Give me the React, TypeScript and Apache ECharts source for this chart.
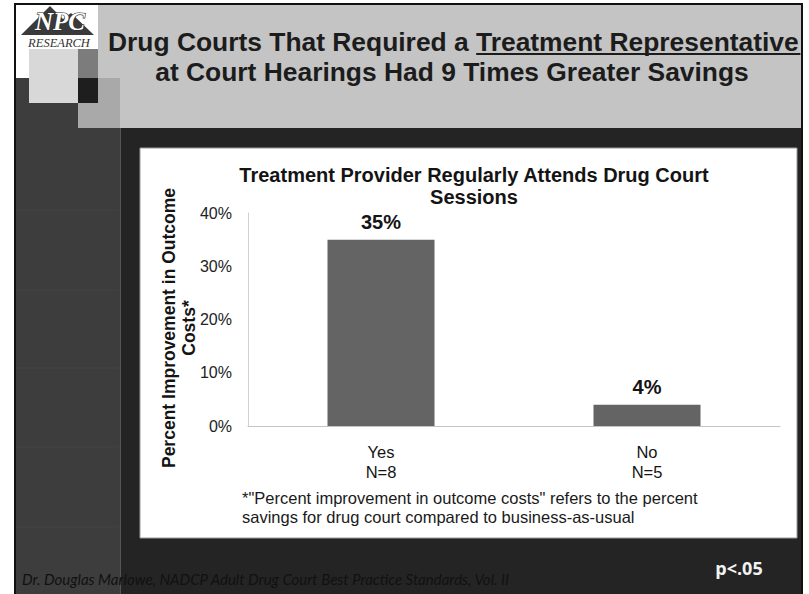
import React, { useEffect, useRef } from "react";
import * as echarts from "echarts";

// ---- data ----
const categories = ["Yes\nN=8", "No\nN=5"];
const improvementPct = [35, 4];
const yMin = 0;
const yMax = 40;
const yStep = 10;

// ---- texts ----
const titleLead = "Drug Courts That Required a ";
const titleUnderlined = "Treatment Representative";
const titleLine2 = "at Court Hearings Had 9 Times Greater Savings";
const chartTitle = "Treatment Provider Regularly Attends Drug Court\nSessions";
const yAxisName = "Percent Improvement in Outcome\nCosts*";
const footnote =
  '*"Percent improvement in outcome costs" refers to the percent\nsavings for drug court compared to business-as-usual';
const citation =
  "Dr. Douglas Marlowe, NADCP Adult Drug Court Best Practice Standards, Vol. II";
const pValue = "p<.05";

const SANS = "'Liberation Sans', Arial, sans-serif";
const SERIF = "'Liberation Serif', 'DejaVu Serif', serif";

export default function App() {
  const ref = useRef<HTMLDivElement>(null);

  useEffect(() => {
    if (!ref.current) return;
    const chart = echarts.init(ref.current, undefined, { renderer: "svg" });

    const titleSize = 26.4;
    const titleX = 108;
    // underline position computed from Arial-metric widths (em units)
    const leadEm = 13.946;
    const underEm = 12.281;

    const colLines = [210, 290, 368, 447, 527].map((y) => ({
      type: "line",
      z: 1,
      shape: { x1: 16, y1: y, x2: 119, y2: y },
      style: { stroke: "#444444", lineWidth: 1 },
    }));

    const option: any = {
      animation: false,
      backgroundColor: "#ffffff",
      title: {
        text: chartTitle,
        left: 469,
        top: 159,
        textAlign: "center",
        textStyle: {
          fontFamily: SANS,
          fontSize: 20,
          fontWeight: "bold",
          color: "#141414",
          lineHeight: 22,
        },
        z: 10,
      },
      grid: { left: 248, right: 29, top: 213, bottom: 168 },
      xAxis: {
        type: "category",
        data: categories,
        z: 5,
        axisLine: { lineStyle: { color: "#c4c4c4", width: 1 } },
        axisTick: { show: false },
        axisLabel: {
          margin: 16,
          fontFamily: SANS,
          fontSize: 16.5,
          lineHeight: 20,
          color: "#141414",
        },
      },
      yAxis: {
        type: "value",
        min: yMin,
        max: yMax,
        interval: yStep,
        z: 5,
        axisLine: { show: true, lineStyle: { color: "#d0d0d0", width: 1 } },
        axisTick: { show: false },
        splitLine: { show: false },
        axisLabel: {
          margin: 16,
          fontFamily: SANS,
          fontSize: 16,
          color: "#222222",
          formatter: "{value}%",
        },
      },
      series: [
        {
          type: "bar",
          data: improvementPct,
          barWidth: 107,
          z: 6,
          itemStyle: { color: "#646464" },
          label: {
            show: true,
            position: "top",
            distance: 8,
            formatter: "{c}%",
            fontFamily: SANS,
            fontSize: 20,
            fontWeight: "bold",
            color: "#141414",
          },
        },
      ],
      graphic: [
        // header and background blocks
        { type: "rect", z: 0, shape: { x: 16, y: 5, width: 786, height: 123 }, style: { fill: "#c4c4c4" } },
        { type: "rect", z: 0, shape: { x: 120, y: 128, width: 682, height: 466 }, style: { fill: "#242424" } },
        { type: "rect", z: 0, shape: { x: 16, y: 78, width: 104, height: 516 }, style: { fill: "#3d3d3d" } },
        ...colLines,
        { type: "line", z: 1, shape: { x1: 120.5, y1: 128, x2: 120.5, y2: 594 }, style: { stroke: "#555555", lineWidth: 1 } },
        { type: "rect", z: 1, shape: { x: 16, y: 5, width: 82, height: 73 }, style: { fill: "#ffffff" } },
        { type: "rect", z: 1, shape: { x: 78, y: 78, width: 42, height: 50 }, style: { fill: "#a9a9a9" } },
        { type: "rect", z: 1, shape: { x: 78, y: 49, width: 20, height: 29 }, style: { fill: "#7c7c7c" } },
        { type: "rect", z: 1, shape: { x: 78, y: 78, width: 20, height: 25 }, style: { fill: "#1e1e1e" } },
        { type: "rect", z: 1, shape: { x: 29, y: 49, width: 49, height: 54 }, style: { fill: "#d8d8d8" } },
        // logo
        {
          type: "polygon",
          z: 2,
          shape: { points: [[21, 35], [50, 6], [63, 19], [71, 13], [94, 35]] },
          style: { fill: "#3a3a3a" },
        },
        {
          type: "text",
          z: 3,
          x: 60,
          y: 21,
          style: {
            text: "NPC",
            align: "center",
            verticalAlign: "middle",
            fontFamily: SERIF,
            fontStyle: "italic",
            fontWeight: "bold",
            fontSize: 25,
            fill: "#ffffff",
            stroke: "#2a2a2a",
            lineWidth: 1.2,
          },
        },
        {
          type: "text",
          z: 3,
          x: 59,
          y: 43,
          style: {
            text: "RESEARCH",
            align: "center",
            verticalAlign: "middle",
            fontFamily: SERIF,
            fontStyle: "italic",
            fontSize: 12.5,
            fill: "#333333",
          },
        },
        // white chart panel
        {
          type: "rect",
          z: 1,
          shape: { x: 140, y: 148, width: 657, height: 390 },
          style: { fill: "#ffffff", stroke: "#9a9a9a", lineWidth: 1 },
        },
        // slide border
        {
          type: "rect",
          z: 4,
          shape: { x: 15, y: 4, width: 787, height: 600 },
          style: { fill: "none", stroke: "#111111", lineWidth: 2 },
        },
        // slide title
        {
          type: "text",
          z: 10,
          x: titleX,
          y: 42,
          style: {
            text: titleLead + titleUnderlined,
            align: "left",
            verticalAlign: "middle",
            fontFamily: SANS,
            fontWeight: "bold",
            fontSize: titleSize,
            fill: "#1c1c1c",
          },
        },
        {
          type: "line",
          z: 10,
          shape: {
            x1: titleX + leadEm * titleSize,
            y1: 54,
            x2: titleX + (leadEm + underEm) * titleSize,
            y2: 54,
          },
          style: { stroke: "#1c1c1c", lineWidth: 2 },
        },
        {
          type: "text",
          z: 10,
          x: 452,
          y: 72,
          style: {
            text: titleLine2,
            align: "center",
            verticalAlign: "middle",
            fontFamily: SANS,
            fontWeight: "bold",
            fontSize: titleSize,
            fill: "#1c1c1c",
          },
        },
        // y axis name
        {
          type: "text",
          z: 10,
          x: 179,
          y: 328,
          rotation: Math.PI / 2,
          style: {
            text: yAxisName,
            align: "center",
            verticalAlign: "middle",
            fontFamily: SANS,
            fontWeight: "bold",
            fontSize: 17.5,
            lineHeight: 20,
            fill: "#141414",
          },
        },
        // footnote
        {
          type: "text",
          z: 10,
          x: 242,
          y: 507,
          style: {
            text: footnote,
            align: "left",
            verticalAlign: "middle",
            fontFamily: SANS,
            fontSize: 16.5,
            lineHeight: 19,
            fill: "#1a1a1a",
          },
        },
        // citation
        {
          type: "text",
          z: 10,
          x: 22,
          y: 579,
          style: {
            text: citation,
            align: "left",
            verticalAlign: "middle",
            fontFamily: "Lato, 'Open Sans', sans-serif",
            fontStyle: "italic",
            fontSize: 15,
            fill: "#111111",
          },
        },
        // p value
        {
          type: "text",
          z: 10,
          x: 739,
          y: 568,
          style: {
            text: pValue,
            align: "center",
            verticalAlign: "middle",
            fontFamily: "'Open Sans', sans-serif",
            fontWeight: "bold",
            fontSize: 18,
            fill: "#f2f2f2",
          },
        },
      ],
    };

    chart.setOption(option);
    return () => chart.dispose();
  }, []);

  return (
    <div
      ref={ref}
      style={{ position: "fixed", left: 0, top: 0, width: 809, height: 594 }}
    />
  );
}
